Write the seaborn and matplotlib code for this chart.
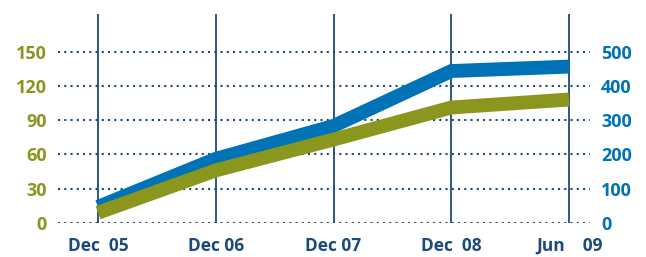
import pandas as pd
import matplotlib
matplotlib.use("Agg")
import matplotlib.pyplot as plt
import seaborn as sns


# Data


periods = ["Dec  05", "Dec 06", "Dec 07", "Dec  08", "Jun    09"]
left_values = [9, 46, 73, 101, 108]      # olive series, left axis (0-150)
right_values = [47, 187, 283, 443, 456]  # blue series, right axis (0-500)
left_ticks = [0, 30, 60, 90, 120, 150]
right_ticks = [0, 100, 200, 300, 400, 500]

OLIVE = "#8a961e"
BLUE = "#0072b6"
NAVY = "#1c4b7a"

sns.set_theme(style="white")
plt.rcParams["font.family"] = ["Open Sans", "DejaVu Sans"]

scale = 150 / 500
df = pd.DataFrame({
    "pos": range(len(periods)),
    "left": left_values,
    "right_scaled": [v * scale for v in right_values],
})

fig = plt.figure(figsize=(6.46, 2.57), dpi=100)
ax = fig.add_axes([58 / 646, 1 - 223 / 257, (590 - 58) / 646, (223 - 14) / 257])

top = 182.8
ax.set_xlim(-0.34, 4.178)
ax.set_ylim(0, top)

# dotted horizontal grid
for t in left_ticks:
    ax.axhline(t, color=NAVY, lw=1.5, linestyle=(0, (1, 2)), zorder=1)

# solid vertical lines at each period
ax.vlines(df["pos"], 0, top, color=NAVY, lw=1.3, zorder=2)

sns.lineplot(data=df, x="pos", y="right_scaled", color=BLUE, lw=10,
             ax=ax, zorder=3, clip_on=False, solid_capstyle="butt",
             solid_joinstyle="miter")
sns.lineplot(data=df, x="pos", y="left", color=OLIVE, lw=10,
             ax=ax, zorder=4, clip_on=False, solid_capstyle="butt",
             solid_joinstyle="miter")

ax.set_xticks(df["pos"])
ax.set_xticklabels(periods, color=NAVY, fontsize=12.5, fontweight="bold")
ax.set_yticks(left_ticks)
ax.set_yticklabels(left_ticks, color=OLIVE, fontsize=13, fontweight="bold")
ax.tick_params(axis="both", length=0)
ax.tick_params(axis="x", pad=10)
ax.tick_params(axis="y", pad=8)
ax.set_xlabel("")
ax.set_ylabel("")

ax2 = ax.twinx()
ax2.set_ylim(0, top / scale)
ax2.set_yticks(right_ticks)
ax2.set_yticklabels(right_ticks, color=BLUE, fontsize=13, fontweight="bold")
ax2.tick_params(axis="y", length=0, pad=8)

for a in (ax, ax2):
    for s in a.spines.values():
        s.set_visible(False)

fig.savefig("out.png", dpi=100)
